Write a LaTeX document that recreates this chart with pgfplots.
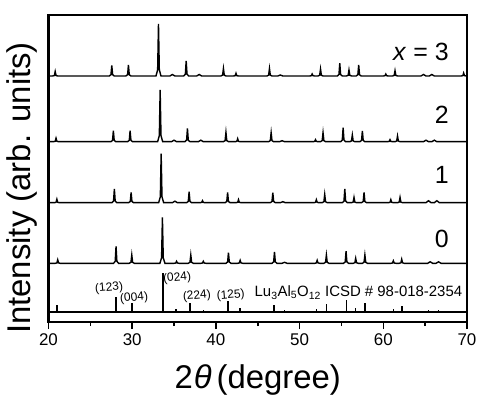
\documentclass[border=0pt]{standalone}
\usepackage{fontspec}
\setmainfont{Liberation Sans}
\usepackage{pgfplots}
\pgfplotsset{compat=1.18}
\usepackage{pgfplotstable}

% x = 0 pattern (intensity relative to its own baseline)
\pgfplotstableread{
x y
20 0
20.8 0
21.0 0.4
21.1 3.5
21.2 0.4
21.4 0
27.77 0
27.97 2.0
28.07 17
28.17 2.0
28.37 0
29.65 0
29.85 1.0
29.95 8.3
30.05 1.0
30.25 0
33.31 0
33.51 5.5
33.61 46
33.71 5.5
33.91 0
35.0 0
35.2 0.3
35.3 2
35.4 0.3
35.6 0
36.7 0
36.9 1.0
37.0 8.3
37.1 1.0
37.3 0
38.2 0
38.4 0.3
38.5 2
38.6 0.3
38.8 0
41.2 0
41.4 1.3
41.5 10.7
41.6 1.3
41.8 0
42.6 0
42.8 0.4
42.9 3
43.0 0.4
43.2 0
46.7 0
46.9 1.4
47.0 11.3
47.1 1.4
47.3 0
47.9 0
48.2 1
48.5 0
51.8 0
52.0 0.4
52.1 3
52.2 0.4
52.4 0
52.9 0
53.1 1.0
53.2 8.3
53.3 1.0
53.5 0
55.25 0
55.45 1.4
55.55 12
55.65 1.4
55.85 0
56.4 0
56.6 0.6
56.7 5
56.8 0.6
57.0 0
57.5 0
57.7 1.0
57.8 8.3
57.9 1.0
58.1 0
60.9 0
61.1 0.3
61.2 2.5
61.3 0.3
61.5 0
61.9 0
62.1 0.5
62.2 4
62.3 0.5
62.5 0
65.3 0
65.6 1.5
65.9 0
66.3 0
66.6 1.5
66.9 0
70 0
}\dataA

% x = 1
\pgfplotstableread{
x y
20 0
20.7 0
20.9 0.4
21.0 3.5
21.1 0.4
21.3 0
27.57 0
27.77 1.6
27.87 13.7
27.97 1.6
28.17 0
29.57 0
29.77 1.2
29.87 10.3
29.97 1.2
30.17 0
33.16 0
33.36 5.9
33.46 49
33.56 5.9
33.76 0
34.8 0
35.1 1.5
35.4 0
36.5 0
36.7 1.3
36.8 11
36.9 1.3
37.1 0
38.1 0
38.3 0.3
38.4 2
38.5 0.3
38.7 0
41.1 0
41.3 1.2
41.4 10.3
41.5 1.2
41.7 0
42.4 0
42.6 0.4
42.7 3
42.8 0.4
43.0 0
46.5 0
46.7 1.2
46.8 10
46.9 1.2
47.1 0
47.7 0
48.0 1
48.3 0
51.7 0
51.9 0.4
52.0 3
52.1 0.4
52.3 0
52.7 0
52.9 1.0
53.0 8.3
53.1 1.0
53.3 0
55.1 0
55.3 1.6
55.4 13.7
55.5 1.6
55.7 0
56.2 0
56.4 0.6
56.5 5.3
56.6 0.6
56.8 0
57.4 0
57.6 1.2
57.7 10.3
57.8 1.2
58.0 0
60.6 0
60.8 0.4
60.9 3
61.0 0.4
61.2 0
61.7 0
61.9 0.6
62.0 5.3
62.1 0.6
62.3 0
65.1 0
65.4 2
65.7 0
66.1 0
66.4 2
66.7 0
70 0
}\dataB

% x = 2
\pgfplotstableread{
x y
20 0
20.6 0
20.8 0.4
20.9 3.5
21.0 0.4
21.2 0
27.45 0
27.65 1.3
27.75 11
27.85 1.3
28.05 0
29.45 0
29.65 1.3
29.75 11
29.85 1.3
30.05 0
33.04 0
33.24 6.2
33.34 51.7
33.44 6.2
33.64 0
34.7 0
35.0 1.5
35.3 0
36.3 0
36.5 1.6
36.6 13.3
36.7 1.6
36.9 0
37.9 0
38.2 1.5
38.5 0
40.9 0
41.1 1.1
41.2 9.3
41.3 1.1
41.5 0
42.3 0
42.5 0.4
42.6 3
42.7 0.4
42.9 0
46.3 0
46.5 1.1
46.6 9
46.7 1.1
46.9 0
47.6 0
47.9 1
48.2 0
51.6 0
51.8 0.3
51.9 2
52.0 0.3
52.2 0
52.5 0
52.7 1.1
52.8 9
52.9 1.1
53.1 0
54.9 0
55.1 1.7
55.2 14
55.3 1.7
55.5 0
56.0 0
56.2 0.8
56.3 6.7
56.4 0.8
56.6 0
57.2 0
57.4 1.3
57.5 10.7
57.6 1.3
57.8 0
60.5 0
60.7 0.3
60.8 2
60.9 0.3
61.1 0
61.4 0
61.6 0.7
61.7 5.7
61.8 0.7
62.0 0
64.8 0
65.1 1.5
65.4 0
65.8 0
66.1 1.5
66.4 0
70 0
}\dataC

% x = 3
\pgfplotstableread{
x y
20 0
20.5 0
20.7 0.5
20.8 4.5
20.9 0.5
21.1 0
27.26 0
27.46 1.3
27.56 10.5
27.66 1.3
27.86 0
29.25 0
29.45 1.3
29.55 11
29.65 1.3
29.85 0
32.84 0
33.04 6.2
33.14 52
33.24 6.2
33.44 0
34.5 0
34.8 1.5
35.1 0
36.15 0
36.35 1.8
36.45 15
36.55 1.8
36.75 0
37.7 0
38.0 1.5
38.3 0
40.6 0
40.8 0.9
40.9 7.5
41.0 0.9
41.2 0
42.1 0
42.3 0.3
42.4 2.7
42.5 0.3
42.7 0
46.1 0
46.3 0.9
46.4 7.5
46.5 0.9
46.7 0
47.4 0
47.7 1
48.0 0
51.2 0
51.4 0.3
51.5 2
51.6 0.3
51.8 0
52.2 0
52.4 0.8
52.5 7
52.6 0.8
52.8 0
54.5 0
54.7 1.5
54.8 12.7
54.9 1.5
55.1 0
55.6 0
55.8 0.7
55.9 6
56.0 0.7
56.2 0
56.76 0
56.96 1.3
57.06 11
57.16 1.3
57.36 0
60.0 0
60.2 0.3
60.3 2
60.4 0.3
60.6 0
61.1 0
61.3 0.6
61.4 5.3
61.5 0.6
61.7 0
64.5 0
64.8 1.5
65.1 0
65.5 0
65.8 1.5
66.1 0
69.3 0
69.5 0.4
69.6 3
69.7 0.4
69.9 0
70 0
}\dataD

% reference pattern (ICSD 98-018-2354)
\pgfplotstableread{
x y
21.05 7
28.04 15.3
29.95 8.7
33.66 39.3
35.25 3
36.93 8.7
38.5 2
41.43 11
42.9 4
46.97 7.3
48.2 2
52.0 3
53.2 8.3
55.6 12.3
56.7 4
57.8 9.3
61.2 3
62.25 5.7
65.4 2
66.6 2
}\sticks

\begin{document}
\begin{tikzpicture}
\begin{axis}[
  scale only axis, width=418.5bp, height=307bp,
  at={(0,0)}, anchor=south west,
  xmin=20, xmax=70, ymin=-10, ymax=297,
  xtick={20,30,...,70}, minor x tick num=1,
  ytick=\empty,
  xtick pos=left, tick align=outside,
  major tick length=7bp, minor tick length=4bp,
  axis line style={line width=2bp},
  every tick/.style={line width=1.5bp, black},
  /pgf/number format/assume math mode=true,
  tick label style={font=\fontsize{17}{17}\selectfont},
  xticklabel style={yshift=-1bp},
  xlabel={2\kern1bp\textit{θ}\kern5bp(degree)},
  xlabel style={font=\fontsize{33}{33}\selectfont, at={(axis description cs:0.5,0)}, anchor=base, yshift=-66bp},
  ylabel={Intensity (arb. units)},
  ylabel style={font=\fontsize{33}{33}\selectfont, at={(axis description cs:-0.0645,0.4365)}, anchor=center},
]
\addplot[black, line width=1.4bp, no marks] table[x=x, y expr=\thisrow{y}+48.7] {\dataA};
\addplot[black, line width=1.4bp, no marks] table[x=x, y expr=\thisrow{y}+109.3] {\dataB};
\addplot[black, line width=1.4bp, no marks] table[x=x, y expr=\thisrow{y}+170.3] {\dataC};
\addplot[black, line width=1.4bp, no marks] table[x=x, y expr=\thisrow{y}+236] {\dataD};
\addplot[black, line width=1.6bp, no marks] coordinates {(20,0) (70,0)};
\addplot[black, ycomb, line width=1.6bp, no marks] table[x=x, y=y] {\sticks};

\node[font=\fontsize{25}{25}\selectfont, anchor=base east] at (axis cs:68.23,251.3) {\textit{x} = 3};
\node[font=\fontsize{25}{25}\selectfont, anchor=base east] at (axis cs:68.23,188) {2};
\node[font=\fontsize{25}{25}\selectfont, anchor=base east] at (axis cs:68.23,128) {1};
\node[font=\fontsize{25}{25}\selectfont, anchor=base east] at (axis cs:68.23,65) {0};

\node[font=\fontsize{12}{12}\selectfont, rotate=5] at (axis cs:27.24,24) {(123)};
\node[font=\fontsize{12}{12}\selectfont, rotate=5] at (axis cs:30.23,14) {(004)};
\node[font=\fontsize{12}{12}\selectfont, rotate=5] at (axis cs:35.37,34) {(024)};
\node[font=\fontsize{12}{12}\selectfont, rotate=5] at (axis cs:37.73,16) {(224)};
\node[font=\fontsize{12}{12}\selectfont, rotate=5] at (axis cs:41.77,16.5) {(125)};
\node[font=\fontsize{15}{15}\selectfont, anchor=base east, inner sep=0pt] at (axis cs:69.45,15.3) {Lu\textsubscript{3}Al\textsubscript{5}O\textsubscript{12} ICSD \# 98-018-2354};
\end{axis}
\pgfresetboundingbox
\path (-48.5bp,-80bp) rectangle (437.5bp,322bp);
\end{tikzpicture}
\end{document}
